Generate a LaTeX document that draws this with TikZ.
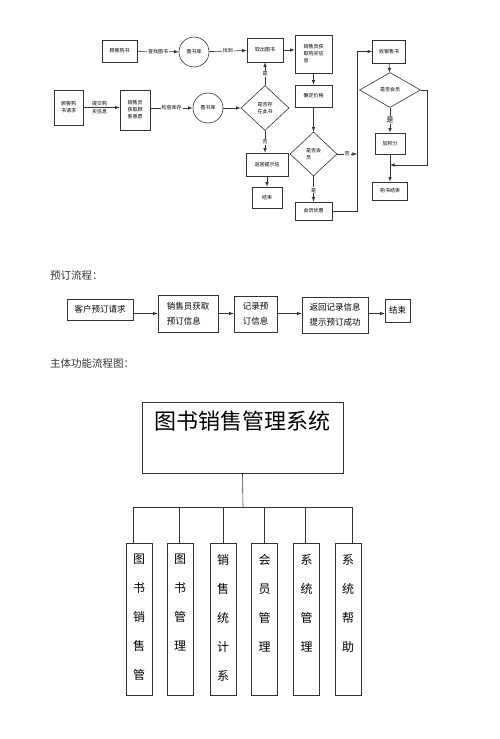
\documentclass[tikz,border=0pt]{standalone}
\usepackage{fontspec}
\setmainfont{Noto Sans CJK SC}
\usetikzlibrary{shapes.geometric,arrows}

\newcommand{\shuzi}[1]{\parbox[c][152pt][t]{26pt}{\centering\fontsize{12}{29}\selectfont\vspace*{11pt}#1}}
\newcommand{\dabiaoti}[1]{\parbox[c][71pt][t]{201pt}{\centering\fontsize{22}{22}\selectfont\vspace*{9pt}#1}}

\tikzset{
	xian/.style={draw=black!80,line width=0.6pt},
	kuang/.style={xian,rectangle,inner sep=1pt,align=left,font=\fontsize{5}{7}\selectfont},
	yuan/.style={xian,circle,minimum size=30pt,inner sep=0pt,font=\fontsize{5}{7}\selectfont},
	lingxing/.style={xian,diamond,inner sep=0pt,align=left,font=\fontsize{5}{7}\selectfont},
	biaozhu/.style={fill=white,inner sep=1pt,font=\fontsize{5}{7}\selectfont},
	dakuang/.style={xian,rectangle,inner sep=1pt,align=left,font=\fontsize{8.5}{15}\selectfont},
	shukuang/.style={xian,rectangle,inner sep=0pt,anchor=north},
	biaoti/.style={anchor=west,inner sep=0pt,font=\fontsize{10.5}{12}\selectfont,text=black!80}
}

\begin{document}
\begin{tikzpicture}[x=1pt,y=-1pt,>=latex]
		\useasboundingbox (0,0) rectangle (500,739);

		\node[kuang,minimum width=35,minimum height=22] (gkgs) at (119.5,51) {顾客购书};
		\node[yuan] (tsk1) at (194,52) {图书库};
		\node[kuang,minimum width=36,minimum height=24] (qcts) at (265,50) {取出图书};
		\node[kuang,minimum width=37,minimum height=38] (xsy1) at (313.5,54) {销售员获\\取购买信\\息};
		\node[kuang,minimum width=29,minimum height=35] (gkqq) at (68.5,107.5) {顾客购\\书请求};
		\node[kuang,minimum width=30,minimum height=40] (xsy2) at (135,110) {销售员\\获取顾\\客意愿};
		\node[yuan] (tsk2) at (208,108) {图书库};
		\node[lingxing,minimum width=48,minimum height=45] (sfcz) at (265,108) {是否存\\在此书};
		\node[kuang,minimum width=42,minimum height=23] (fhts) at (267,164.5) {返回提示信};
		\node[kuang,minimum width=30,minimum height=21] (js1) at (267,197.5) {结束};
		\node[kuang,minimum width=37,minimum height=22] (qdjg) at (313.5,96) {确定价格};
		\node[lingxing,minimum width=47,minimum height=44] (sfhy1) at (313.5,154) {是否会\\员};
		\node[kuang,minimum width=37,minimum height=18] (hyyh) at (313.5,211) {会员优惠};
		\node[kuang,minimum width=33,minimum height=23] (syss) at (389,51.5) {收银售书};
		\node[lingxing,minimum width=61,minimum height=35] (sfhy2) at (390,90) {是否会员};
		\node[kuang,minimum width=30,minimum height=21] (jjf) at (390,143.5) {加积分};
		\node[kuang,minimum width=35,minimum height=18] (gsjs) at (390,191) {购书结束};
		\coordinate (shu) at (357,211);
		\coordinate (hb) at (390,165);

		\draw[xian,->] (gkgs) -- node[biaozhu]{查找图书} (tsk1);
		\draw[xian,->] (tsk1) -- node[biaozhu]{找到} (qcts);
		\draw[xian,->] (qcts.east) -- (qcts.east -| xsy1.west);
		\draw[xian,->] (gkqq.east) -- node[biaozhu,above,pos=0.45]{提交购} node[biaozhu,below,pos=0.45]{买信息} (gkqq.east -| xsy2.west);
		\draw[xian,->] (xsy2.east |- tsk2) -- node[biaozhu]{检查库存} (tsk2);
		\draw[xian,->] (tsk2) -- (sfcz);
		\draw[xian,->] (sfcz.north) -- node[biaozhu]{是} (qcts.south);
		\draw[xian,->] (sfcz.south) -- node[biaozhu]{否} (sfcz.south |- fhts.north);
		\draw[xian,->] (fhts) -- (js1);
		\draw[xian,->] (xsy1) -- (qdjg);
		\draw[xian,->] (qdjg) -- (sfhy1);
		\draw[xian,->] (sfhy1) -- node[biaozhu,pos=0.55]{是} (hyyh);
		\draw[xian,->] (sfhy1.east) -- node[biaozhu]{否} (sfhy1.east -| shu);
		\draw[xian,->] (hyyh.east) -- (hyyh.east -| shu) |- (syss.west);
		\draw[xian,->] (syss) -- (sfhy2);
		\draw[xian,->] (sfhy2) -- node[biaozhu,font=\fontsize{7}{8}\selectfont]{是} (jjf);
		\draw[xian,->] (sfhy2.east) -- ++(6,0) |- (hb);
		\draw[xian,->] (jjf) -- (gsjs);

		\node[biaoti] (yd) at (50,275) {预订流程：};
		\node[dakuang,minimum width=66,minimum height=21] (b1) at (100,309.5) {客户预订请求};
		\node[dakuang,minimum width=60,minimum height=37] (b2) at (188,313.5) {销售员获取\\预订信息};
		\node[dakuang,minimum width=43,minimum height=36] (b3) at (255.5,314) {记录预\\订信息};
		\node[dakuang,minimum width=66,minimum height=36] (b4) at (335,315) {返回记录信息\\提示预订成功};
		\node[dakuang,minimum width=25,minimum height=23] (b5) at (397.5,310.5) {结束};
		\draw[xian,->] (b1.east |- b2) -- (b2);
		\draw[xian,->] (b2) -- (b2 -| b3.west);
		\draw[xian,->] (b3.east |- b2) -- (b2 -| b4.west);
		\draw[xian,->] (b4.east |- b2) -- (b2 -| b5.west);

		\node[biaoti] (zt) at (50,363) {主体功能流程图：};
		\node[xian,inner sep=0pt] (sys) at (242.5,437.5) {\dabiaoti{图书销售管理系统}};
		\coordinate (bus) at (243,507);
		\node[shukuang] (m1) at (139,543) {\shuzi{图\\书\\销\\售\\管}};
		\node[shukuang] (m2) at (180,543) {\shuzi{图\\书\\管\\理}};
		\node[shukuang] (m3) at (223,543) {\shuzi{销\\售\\统\\计\\系}};
		\node[shukuang] (m4) at (264.5,543) {\shuzi{会\\员\\管\\理}};
		\node[shukuang] (m5) at (306.5,543) {\shuzi{系\\统\\管\\理}};
		\node[shukuang] (m6) at (348,543) {\shuzi{系\\统\\帮\\助}};
		\draw[xian] (sys.south) -- (bus);
		\draw[xian] (m1.north) ++(-6,0) |- (bus);
		\draw[xian] (m2.north) ++(-1,0) |- (bus);
		\draw[xian] (m3.north) |- (bus);
		\draw[xian] (m4.north) |- (bus);
		\draw[xian] (m5.north) ++(-1.5,0) |- (bus);
		\draw[xian] (m6.north) ++(4,0) |- (bus);
	\end{tikzpicture}
\end{document}
